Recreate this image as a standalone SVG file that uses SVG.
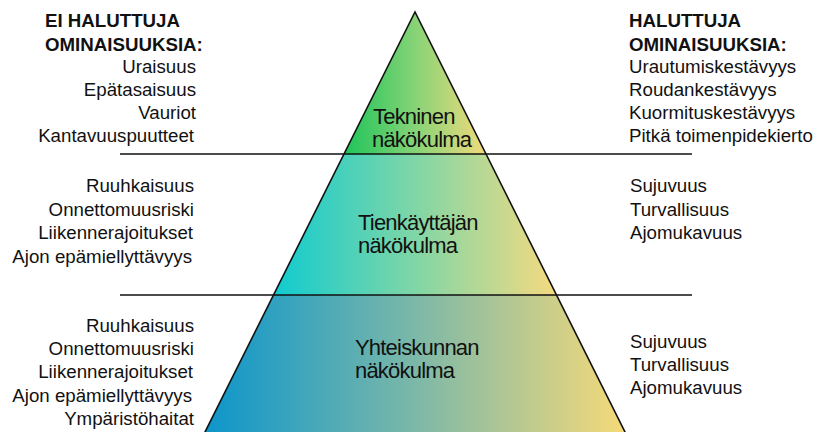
<svg xmlns="http://www.w3.org/2000/svg" width="817" height="432" viewBox="0 0 817 432">
<style>
text{font-family:"Liberation Sans",Arial,sans-serif;font-size:18.7px;fill:#111}
.h{font-weight:bold}
.l{text-anchor:end}
.p{font-size:22px;letter-spacing:-0.8px}
.edge{stroke:#111;stroke-width:1.6;fill:none}
</style>
<defs>
<linearGradient id="gTop" x1="0" y1="0" x2="1" y2="0">
<stop offset="0" stop-color="#1ec45a"/><stop offset="0.5" stop-color="#86d376"/><stop offset="1" stop-color="#f3da7c"/>
</linearGradient>
<linearGradient id="gMid" x1="0" y1="0" x2="1" y2="0">
<stop offset="0" stop-color="#10cbd0"/><stop offset="0.5" stop-color="#80d6a6"/><stop offset="1" stop-color="#f5da80"/>
</linearGradient>
<linearGradient id="gBot" x1="0" y1="0" x2="1" y2="0">
<stop offset="0" stop-color="#0a95cc"/><stop offset="0.5" stop-color="#7cb8a8"/><stop offset="1" stop-color="#f8da78"/>
</linearGradient>
</defs>
<g id="band-top">
<polygon points="415,12 344,154 486,154" fill="url(#gTop)"/>
<text class="p" x="373" y="124">Tekninen</text>
<text class="p" x="372" y="147">näkökulma</text>
</g>
<g id="band-mid">
<polygon points="344,154 486,154 556.5,295 273.5,295" fill="url(#gMid)"/>
<text class="p" x="358" y="230">Tienkäyttäjän</text>
<text class="p" x="358" y="253">näkökulma</text>
</g>
<g id="band-bot">
<polygon points="273.5,295 556.5,295 629,440 201,440" fill="url(#gBot)"/>
<text class="p" x="355" y="355">Yhteiskunnan</text>
<text class="p" x="355" y="378">näkökulma</text>
</g>
<g id="connectors">
<polyline class="edge" points="201,440 415,12 629,440"/>
<line class="edge" x1="120" y1="154" x2="692" y2="154"/>
<line class="edge" x1="120" y1="295" x2="692" y2="295"/>
</g>
<g id="left-top">
<text class="h" x="45" y="27">EI HALUTTUJA</text>
<text class="h" x="45" y="51">OMINAISUUKSIA:</text>
<text class="l" x="196" y="73">Uraisuus</text>
<text class="l" x="196" y="96">Epätasaisuus</text>
<text class="l" x="196" y="119">Vauriot</text>
<text class="l" x="194" y="142">Kantavuuspuutteet</text>
</g>
<g id="right-top">
<text class="h" x="629" y="27">HALUTTUJA</text>
<text class="h" x="629" y="51">OMINAISUUKSIA:</text>
<text x="629" y="73">Urautumiskestävyys</text>
<text x="629" y="96">Roudankestävyys</text>
<text x="629" y="119">Kuormituskestävyys</text>
<text x="629" y="142">Pitkä toimenpidekierto</text>
</g>
<g id="left-mid">
<text class="l" x="194" y="192">Ruuhkaisuus</text>
<text class="l" x="194" y="216">Onnettomuusriski</text>
<text class="l" x="193" y="239">Liikennerajoitukset</text>
<text class="l" x="192" y="263">Ajon epämiellyttävyys</text>
</g>
<g id="right-mid">
<text x="630" y="192">Sujuvuus</text>
<text x="630" y="216">Turvallisuus</text>
<text x="630" y="239">Ajomukavuus</text>
</g>
<g id="left-bot">
<text class="l" x="194" y="332">Ruuhkaisuus</text>
<text class="l" x="194" y="355">Onnettomuusriski</text>
<text class="l" x="193" y="378">Liikennerajoitukset</text>
<text class="l" x="192" y="402">Ajon epämiellyttävyys</text>
<text class="l" x="194" y="425">Ympäristöhaitat</text>
</g>
<g id="right-bot">
<text x="630" y="348">Sujuvuus</text>
<text x="630" y="371">Turvallisuus</text>
<text x="630" y="394">Ajomukavuus</text>
</g>
</svg>
